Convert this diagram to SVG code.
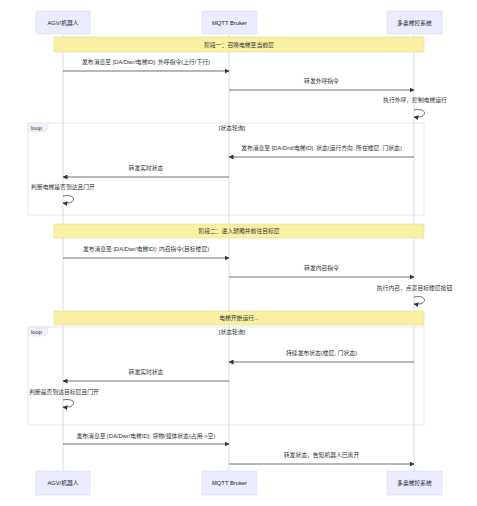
<svg xmlns="http://www.w3.org/2000/svg" width="477" height="506" viewBox="0 0 477 506">
<defs>
<style>
text{font-family:"Liberation Sans","Noto Sans CJK SC",sans-serif;font-size:5.8px;fill:#333;}
.actor rect{fill:#ececff;stroke:#d9d9f3;stroke-width:0.6;}
.actor text{text-anchor:middle;dominant-baseline:central;fill:#222;}
.life{stroke:#c8c8c8;stroke-width:0.6;}
.msg{stroke:#333;stroke-width:0.7;fill:none;}
.mt{text-anchor:middle;}
.note rect{fill:#f8f0a3;stroke:#e6dc8a;stroke-width:0.6;}
.note text{text-anchor:middle;dominant-baseline:central;fill:#333;}
.loop .box{fill:none;stroke:#e0e0e0;stroke-width:0.7;}
.loop .lbl{fill:#f0f0f8;stroke:#e0e0e0;stroke-width:0.5;}
</style>
<marker id="ah" viewBox="0 0 10 10" refX="9" refY="5" markerWidth="5" markerHeight="5" orient="auto" markerUnits="userSpaceOnUse">
<path d="M0,0 L10,5 L0,10 z" fill="#333"/>
</marker>
</defs>
<rect width="477" height="506" fill="#ffffff"/>

<g id="lifelines">
<line class="life" x1="63" y1="34" x2="63" y2="471"/>
<line class="life" x1="229" y1="34" x2="229" y2="471"/>
<line class="life" x1="414" y1="34" x2="414" y2="471"/>
</g>

<g id="loop1" class="loop">
<rect class="box" x="28" y="123" width="396" height="92"/>
<path class="lbl" d="M28,123 H48 V128 L44,132 H28 Z"/>
<text x="31" y="129.5">loop</text>
<text x="232" y="130" text-anchor="middle">[状态轮询]</text>
</g>

<g id="loop2" class="loop">
<rect class="box" x="28" y="327" width="396" height="98"/>
<path class="lbl" d="M28,327 H48 V332 L44,336 H28 Z"/>
<text x="31" y="333.5">loop</text>
<text x="232" y="334" text-anchor="middle">[状态轮询]</text>
</g>

<g id="actor-agv-top" class="actor"><rect x="36" y="11" width="54" height="23"/><text x="63" y="22.5">AGV/机器人</text></g>
<g id="actor-mqtt-top" class="actor"><rect x="202" y="11" width="55" height="23"/><text x="229.5" y="22.5">MQTT Broker</text></g>
<g id="actor-ctrl-top" class="actor"><rect x="387" y="11" width="55" height="23"/><text x="414.5" y="22.5">多奥梯控系统</text></g>

<g id="note1" class="note"><rect x="54" y="37" width="370" height="15"/><text x="239" y="44.5">阶段一：召唤电梯至当前层</text></g>
<g id="note2" class="note"><rect x="54" y="224" width="370" height="14"/><text x="239" y="231">阶段二：进入轿厢并前往目标层</text></g>
<g id="note3" class="note"><rect x="54" y="311" width="370" height="14"/><text x="239" y="318">电梯开始运行...</text></g>

<g id="connectors">
<line class="msg" x1="63" y1="71" x2="229" y2="71" marker-end="url(#ah)"/>
<line class="msg" x1="229" y1="90" x2="414" y2="90" marker-end="url(#ah)"/>
<path class="msg" d="M414,110 C428,107 428,119 414,117" marker-end="url(#ah)"/>
<line class="msg" x1="414" y1="157" x2="229" y2="157" marker-end="url(#ah)"/>
<line class="msg" x1="229" y1="177" x2="63" y2="177" marker-end="url(#ah)"/>
<path class="msg" d="M63,196 C77,193 77,205 63,203" marker-end="url(#ah)"/>
<line class="msg" x1="63" y1="258" x2="229" y2="258" marker-end="url(#ah)"/>
<line class="msg" x1="229" y1="277" x2="414" y2="277" marker-end="url(#ah)"/>
<path class="msg" d="M414,297 C428,294 428,306 414,304" marker-end="url(#ah)"/>
<line class="msg" x1="414" y1="362" x2="229" y2="362" marker-end="url(#ah)"/>
<line class="msg" x1="229" y1="381" x2="63" y2="381" marker-end="url(#ah)"/>
<path class="msg" d="M63,400 C77,397 77,409 63,407" marker-end="url(#ah)"/>
<line class="msg" x1="63" y1="444" x2="229" y2="444" marker-end="url(#ah)"/>
<line class="msg" x1="229" y1="464" x2="414" y2="464" marker-end="url(#ah)"/>
</g>

<g id="labels">
<text class="mt" x="146" y="64">发布消息至 [DA/Dwr/电梯ID]: 外呼指令(上行/下行)</text>
<text class="mt" x="321.5" y="83">转发外呼指令</text>
<text class="mt" x="415" y="102">执行外呼，控制电梯运行</text>
<text class="mt" x="321.5" y="150">发布消息至 [DA/Drd/电梯ID]: 状态(运行方向, 所在楼层, 门状态)</text>
<text class="mt" x="146" y="170">转发实时状态</text>
<text class="mt" x="63" y="189">判断电梯是否到达且门开</text>
<text class="mt" x="146" y="251">发布消息至 [DA/Dwr/电梯ID]: 内召指令(目标楼层)</text>
<text class="mt" x="321.5" y="270">转发内召指令</text>
<text class="mt" x="414.5" y="290">执行内召，点亮目标楼层按钮</text>
<text class="mt" x="321.5" y="355">持续发布状态(楼层, 门状态)</text>
<text class="mt" x="146" y="374">转发实时状态</text>
<text class="mt" x="64" y="394">判断是否到达目标层且门开</text>
<text class="mt" x="146" y="438">发布消息至 [DA/Dwr/电梯ID]: 货物/载体状态(占用-&gt;空)</text>
<text class="mt" x="321.5" y="457">转发状态，告知机器人已离开</text>
</g>

<g id="actor-agv-bottom" class="actor"><rect x="36" y="471" width="54" height="24"/><text x="63" y="483">AGV/机器人</text></g>
<g id="actor-mqtt-bottom" class="actor"><rect x="202" y="471" width="55" height="24"/><text x="229.5" y="483">MQTT Broker</text></g>
<g id="actor-ctrl-bottom" class="actor"><rect x="387" y="471" width="55" height="24"/><text x="414.5" y="483">多奥梯控系统</text></g>
</svg>
